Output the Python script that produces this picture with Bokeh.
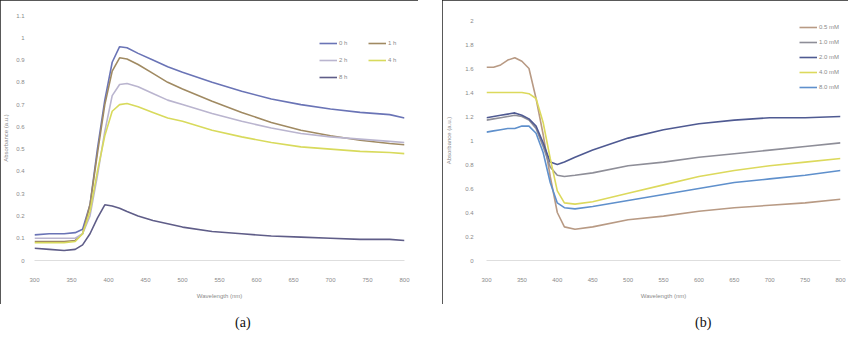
from bokeh.plotting import figure
from bokeh.models import Legend, LegendItem, FixedTicker, Div, Range1d
from bokeh.layouts import row, column
from bokeh.embed import file_html
from bokeh.resources import INLINE

# ---------------- data: panel (a) ----------------
wl_a = [300, 320, 340, 355, 365, 375, 385, 395, 405, 415, 425, 440, 460, 480,
        500, 540, 580, 620, 660, 700, 740, 780, 800]
a_s1 = [0.115, 0.12, 0.12, 0.125, 0.14, 0.25, 0.50, 0.72, 0.89, 0.96, 0.955, 0.93,
        0.90, 0.87, 0.845, 0.80, 0.76, 0.725, 0.70, 0.68, 0.665, 0.655, 0.64]
a_s2 = [0.085, 0.085, 0.085, 0.09, 0.12, 0.25, 0.48, 0.70, 0.85, 0.91, 0.905, 0.88,
        0.84, 0.80, 0.77, 0.715, 0.665, 0.62, 0.585, 0.56, 0.54, 0.525, 0.52]
a_s3 = [0.10, 0.10, 0.10, 0.10, 0.12, 0.20, 0.38, 0.58, 0.74, 0.79, 0.795, 0.78,
        0.75, 0.72, 0.70, 0.66, 0.625, 0.595, 0.57, 0.555, 0.545, 0.535, 0.53]
a_s4 = [0.08, 0.08, 0.08, 0.085, 0.12, 0.22, 0.40, 0.56, 0.67, 0.70, 0.705, 0.69,
        0.665, 0.64, 0.625, 0.585, 0.555, 0.53, 0.51, 0.50, 0.49, 0.485, 0.48]
a_s5 = [0.055, 0.05, 0.045, 0.05, 0.07, 0.12, 0.19, 0.25, 0.245, 0.235, 0.22, 0.20,
        0.18, 0.165, 0.15, 0.13, 0.12, 0.11, 0.105, 0.10, 0.095, 0.095, 0.09]
names_a = ["0 h", "1 h", "2 h", "4 h", "8 h"]
colors_a = ["#6a74b6", "#a08a62", "#bab5cf", "#d8da5c", "#5f5d88"]

# ---------------- data: panel (b) ----------------
wl_b = [300, 310, 320, 330, 340, 350, 360, 370, 380, 390, 400, 410, 425, 450,
        500, 550, 600, 650, 700, 750, 800]
b_s1 = [1.61, 1.61, 1.63, 1.67, 1.69, 1.66, 1.60, 1.35, 1.05, 0.70, 0.40, 0.28,
        0.26, 0.28, 0.34, 0.37, 0.41, 0.44, 0.46, 0.48, 0.51]
b_s2 = [1.17, 1.18, 1.19, 1.20, 1.21, 1.20, 1.17, 1.10, 0.95, 0.78, 0.71, 0.70,
        0.71, 0.73, 0.79, 0.82, 0.86, 0.89, 0.92, 0.95, 0.98]
b_s3 = [1.19, 1.20, 1.21, 1.22, 1.23, 1.21, 1.18, 1.12, 0.98, 0.82, 0.80, 0.82,
        0.86, 0.92, 1.02, 1.09, 1.14, 1.17, 1.19, 1.19, 1.20]
b_s4 = [1.40, 1.40, 1.40, 1.40, 1.40, 1.40, 1.39, 1.35, 1.15, 0.85, 0.58, 0.48,
        0.47, 0.49, 0.56, 0.63, 0.70, 0.75, 0.79, 0.82, 0.85]
b_s5 = [1.07, 1.08, 1.09, 1.10, 1.10, 1.12, 1.12, 1.06, 0.90, 0.65, 0.48, 0.44,
        0.43, 0.45, 0.50, 0.55, 0.60, 0.65, 0.68, 0.71, 0.75]
names_b = ["0.5 mM", "1.0 mM", "2.0 mM", "4.0 mM", "8.0 mM"]
colors_b = ["#b89a84", "#8e8e98", "#4f5a92", "#dcd95c", "#5f90cc"]

x_ticks = [300, 350, 400, 450, 500, 550, 600, 650, 700, 750, 800]
x_tick_labels = ["300", "350", "400", "450", "500", "550", "600", "650", "700", "750", "800"]
y_ticks_a = [0, 0.1, 0.2, 0.3, 0.4, 0.5, 0.6, 0.7, 0.8, 0.9, 1.0, 1.1]
y_tick_labels_a = ["0", "0.1", "0.2", "0.3", "0.4", "0.5", "0.6", "0.7", "0.8", "0.9", "1", "1.1"]
y_ticks_b = [0, 0.2, 0.4, 0.6, 0.8, 1.0, 1.2, 1.4, 1.6, 1.8, 2.0]
y_tick_labels_b = ["0", "0.2", "0.4", "0.6", "0.8", "1", "1.2", "1.4", "1.6", "1.8", "2"]

FONT = "Liberation Sans"
TXT = "#8a8a8a"


def make_panel(width, height, bl, br, bt, bb, y_max, y_ticks, y_labels,
               y_lab_standoff, y_title_standoff, xs, series, names, colors,
               legend_loc, ncols, spacing, order):
    p = figure(width=width, height=height, output_backend="svg", toolbar_location=None,
               x_range=Range1d(300, 800), y_range=Range1d(0, y_max),
               min_border_left=bl, min_border_right=br, min_border_top=bt,
               min_border_bottom=bb)
    p.styles = {"outline": "1.5px solid #222", "outline-offset": "-1.5px"}
    p.outline_line_color = None
    p.background_fill_color = "white"
    p.border_fill_color = "white"
    p.xgrid.grid_line_color = None
    p.ygrid.grid_line_color = None

    p.xaxis.ticker = FixedTicker(ticks=x_ticks)
    p.xaxis.major_label_overrides = dict(zip(x_ticks, x_tick_labels))
    p.yaxis.ticker = FixedTicker(ticks=y_ticks)
    p.yaxis.major_label_overrides = dict(zip(y_ticks, y_labels))
    for ax in (p.xaxis[0], p.yaxis[0]):
        ax.major_tick_line_color = None
        ax.minor_tick_line_color = None
        ax.major_label_text_font = FONT
        ax.major_label_text_font_size = "6px"
        ax.major_label_text_color = TXT
        ax.axis_label_text_font = FONT
        ax.axis_label_text_font_size = "6px"
        ax.axis_label_text_color = TXT
        ax.axis_label_text_font_style = "normal"
    p.xaxis.axis_line_color = "#dedede"
    p.yaxis.axis_line_color = None
    p.xaxis.axis_label = "Wavelength (nm)"
    p.yaxis.axis_label = "Absorbance (a.u.)"
    p.xaxis.major_label_standoff = 11
    p.xaxis.axis_label_standoff = 8
    p.yaxis.major_label_standoff = y_lab_standoff
    p.yaxis.axis_label_standoff = y_title_standoff

    items = []
    for ys, nm, c in zip(series, names, colors):
        r = p.line(xs, ys, line_color=c, line_width=1.6)
        items.append(LegendItem(label=nm, renderers=[r]))
    items = [items[i] for i in order]
    leg = Legend(items=items, location=legend_loc, ncols=ncols)
    leg.label_text_font = FONT
    leg.label_text_font_size = "6px"
    leg.label_text_color = TXT
    leg.glyph_width = 18
    leg.glyph_height = 8
    leg.label_height = 8
    leg.label_standoff = 2
    leg.spacing = spacing
    leg.padding = 0
    leg.margin = 0
    leg.border_line_color = None
    leg.background_fill_alpha = 0
    p.add_layout(leg)
    return p


pa = make_panel(418, 304, 34, 14, 15, 44, 1.1, y_ticks_a, y_tick_labels_a, 4, 4,
                wl_a, [a_s1, a_s2, a_s3, a_s4, a_s5], names_a, colors_a,
                (285, 179), 2, 9, [0, 2, 4, 1, 3])
pb = make_panel(406, 304, 44, 8, 20, 44, 2.0, y_ticks_b, y_tick_labels_b, 7, 10,
                wl_b, [b_s1, b_s2, b_s3, b_s4, b_s5], names_b, colors_b,
                (313, 169), 1, 7, [0, 1, 2, 3, 4])

cap_style = "font-family:'Liberation Serif';font-size:14px;color:#111;line-height:16px;margin-top:6px;"
cap_a = Div(text='<div style="%spadding-left:230px;">(a)</div>' % cap_style, width=418, height=22)
cap_b = Div(text='<div style="%spadding-left:248px;">(b)</div>' % cap_style, width=406, height=22)

layout = row(column(pa, cap_a), column(pb, cap_b), spacing=14)

open("out.html", "w").write(file_html(layout, INLINE))
